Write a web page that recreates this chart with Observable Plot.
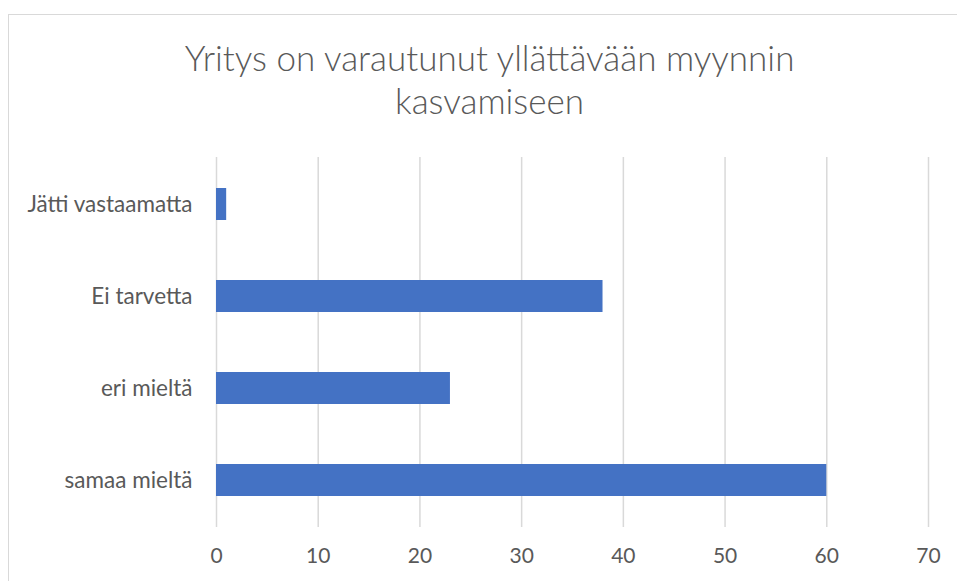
<!DOCTYPE html>
<html>
<head>
<meta charset="utf-8">
<script src="https://cdn.jsdelivr.net/npm/d3@7"></script>
<script src="https://cdn.jsdelivr.net/npm/@observablehq/plot@0.6"></script>
<style>
  html, body { margin: 0; padding: 0; background: #fff; }
  #wrap { position: relative; width: 957px; height: 581px; overflow: hidden; font-family: Lato, "Noto Sans", sans-serif; }
  #frame { position: absolute; left: 8px; top: 14px; width: 1000px; height: 1000px; border-left: 1.5px solid #d9d9d9; border-top: 1.5px solid #d9d9d9; box-sizing: border-box; }
  #title { position: absolute; left: 0; top: 0; width: 957px; height: 130px; text-align: center; color: #595959; font-size: 35px; font-weight: 300; line-height: 43px; padding-top: 36px; box-sizing: border-box; padding-left: 22px; }
  #chart { position: absolute; left: 0; top: 130px; }
</style>
</head>
<body>
<div id="wrap">
  <div id="frame"></div>
  <div id="title">Yritys on varautunut yllättävään myynnin<br>kasvamiseen</div>
  <div id="chart"></div>
</div>
<script>
const categories = ["Jätti vastaamatta", "Ei tarvetta", "eri mieltä", "samaa mieltä"];
const values = [1, 38, 23, 60];
const xTicks = [0, 10, 20, 30, 40, 50, 60, 70];

const data = categories.map((c, i) => ({category: c, value: values[i]}));

const chart = Plot.plot({
  width: 957,
  height: 451,
  marginLeft: 216,
  marginRight: 29,
  marginTop: 27,
  marginBottom: 54,
  style: {fontFamily: "Lato, 'Noto Sans', sans-serif", fontSize: "21px", color: "#595959", background: "transparent"},
  x: {domain: [0, 70], ticks: xTicks, label: null, tickSize: 0},
  y: {domain: categories, label: null, tickSize: 0, paddingInner: 0.65, paddingOuter: 0.325},
  marks: [
    Plot.gridX(xTicks, {stroke: "#d9d9d9", strokeOpacity: 1, strokeWidth: 1.5}),
    Plot.barX(data, {x: "value", y: "category", fill: "#4472C4"}),
    Plot.axisX({ticks: xTicks, tickSize: 0, tickPadding: 21, label: null, fill: "#595959", fontSize: 21}),
    Plot.axisY({tickSize: 0, tickPadding: 24, label: null, fill: "#595959", fontSize: 22.5})
  ]
});
document.getElementById("chart").appendChild(chart);
</script>
</body>
</html>
